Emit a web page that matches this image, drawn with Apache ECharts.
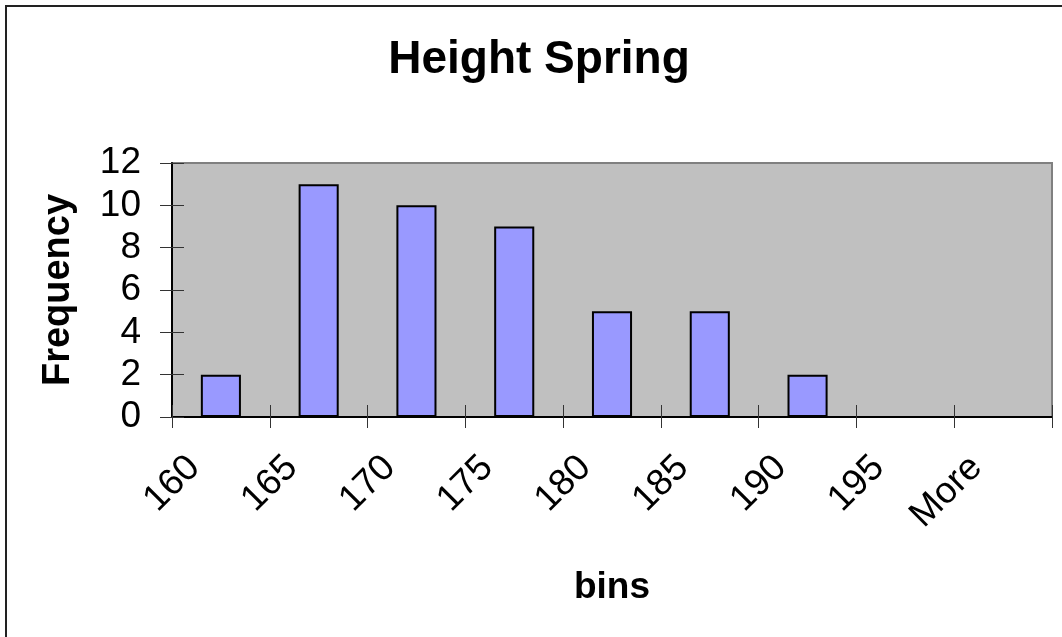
<!DOCTYPE html>
<html>
<head>
<meta charset="utf-8">
<script src="https://cdn.jsdelivr.net/npm/echarts@6/dist/echarts.min.js"></script>
<style>
html,body{margin:0;padding:0;background:#fff;}
#chart{width:1062px;height:637px;}
</style>
</head>
<body>
<div id="chart"></div>
<script>
const categories = ['160','165','170','175','180','185','190','195','More'];
const frequency = [2, 11, 10, 9, 5, 5, 2, 0, 0];
const yTicks = { min: 0, max: 12, interval: 2 };

const FONT = '"Liberation Sans", Arial, sans-serif';
const chart = echarts.init(document.getElementById('chart'), null, { renderer: 'canvas' });
const gridPos = { left: 172, right: 10, top: 163, bottom: 220 };

chart.setOption({
  animation: false,
  backgroundColor: '#ffffff',
  title: {
    text: 'Height Spring',
    left: 534, textAlign: 'center', top: 32,
    textStyle: { fontFamily: FONT, fontSize: 46, fontWeight: 'bold', color: '#000' }
  },
  graphic: [{
    type: 'rect', shape: { x: 6, y: 6, width: 1200, height: 800 },
    style: { fill: 'none', stroke: '#222', lineWidth: 2 }, z: 100
  }],
  grid: Object.assign({ show: true, backgroundColor: '#c0c0c0', borderColor: '#808080', borderWidth: 2 }, gridPos),
  xAxis: [{
    type: 'category', data: categories, position: 'bottom',
    name: 'bins', nameLocation: 'middle', nameGap: 152,
    nameTextStyle: { fontFamily: FONT, fontSize: 37, fontWeight: 'bold', color: '#000' },
    axisLine: { lineStyle: { color: '#000', width: 2 } },
    axisTick: { show: true, inside: false, length: 11, lineStyle: { color: '#333', width: 1 } },
    axisLabel: { rotate: 45, margin: 18, padding: [0, 38, 0, 0], fontFamily: FONT, fontSize: 37, color: '#000', interval: 0 },
    splitLine: { show: false }
  }, {
    type: 'category', data: categories, position: 'bottom',
    axisLine: { show: false },
    axisTick: { show: true, inside: true, length: 12, lineStyle: { color: '#333', width: 1 } },
    axisLabel: { show: false }, splitLine: { show: false }
  }],
  yAxis: [{
    type: 'value', min: yTicks.min, max: yTicks.max, interval: yTicks.interval,
    name: 'Frequency', nameLocation: 'middle', nameGap: 94, nameRotate: 90,
    nameTextStyle: { fontFamily: FONT, fontSize: 38, fontWeight: 'bold', color: '#000' },
    axisLine: { show: true, lineStyle: { color: '#000', width: 2 } },
    axisTick: { show: true, inside: false, length: 12, lineStyle: { color: '#333', width: 1 } },
    axisLabel: { margin: 31, fontFamily: FONT, fontSize: 37, color: '#000' },
    splitLine: { show: false }
  }, {
    type: 'value', min: yTicks.min, max: yTicks.max, interval: yTicks.interval, position: 'left',
    axisLine: { show: false },
    axisTick: { show: true, inside: true, length: 12, lineStyle: { color: '#333', width: 1 } },
    axisLabel: { show: false }, splitLine: { show: false }
  }],
  series: [{
    type: 'bar', data: frequency, xAxisIndex: 0, yAxisIndex: 0,
    barWidth: '41%',
    itemStyle: { color: '#9999ff', borderColor: '#000', borderWidth: 2 }
  }]
});
</script>
</body>
</html>
